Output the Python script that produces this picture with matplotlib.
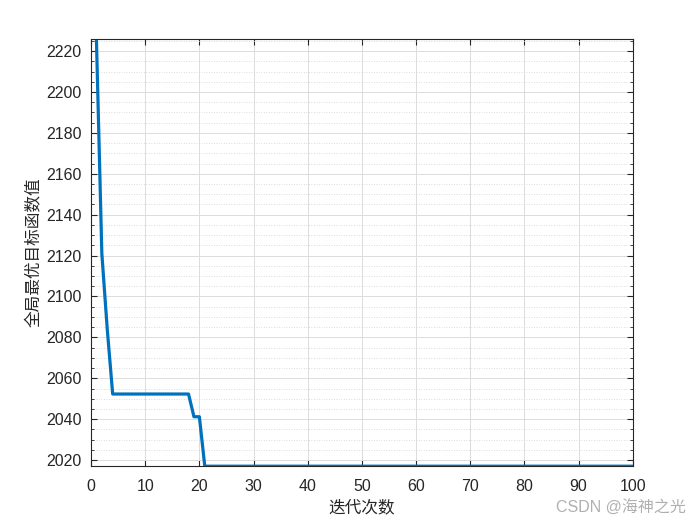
import matplotlib
matplotlib.use("Agg")
import matplotlib.pyplot as plt
from matplotlib.ticker import MultipleLocator
import numpy as np

plt.rcParams['font.family'] = ['Liberation Sans', 'Noto Sans CJK SC', 'DejaVu Sans']

iterations = list(range(1, 101))
head_values = [2226.0, 2121.0, 2084.0]
plateau1 = [2052.3] * 15          # iterations 4..18
plateau2 = [2041.2] * 2           # iterations 19..20
final_values = [2017.0] * 80      # iterations 21..100
best_values = head_values + plateau1 + plateau2 + final_values

xlabel_text = "迭代次数"
ylabel_text = "全局最优目标函数值"
watermark = "CSDN @海神之光"

fig = plt.figure(figsize=(7, 5.25), dpi=100)
ax = fig.add_axes([0.13, 0.112, 0.774, 0.814])

ax.plot(iterations, best_values, color='#0072BD', linewidth=2.3)

ax.set_xlim(0, 100)
ax.set_ylim(min(best_values), max(best_values))
ax.xaxis.set_major_locator(MultipleLocator(10))
ax.yaxis.set_major_locator(MultipleLocator(20))
ax.yaxis.set_minor_locator(MultipleLocator(5))

ax.grid(which='major', color='#dcdcdc', linewidth=0.7, linestyle='-')
ax.grid(which='minor', axis='y', color='#d0d0d0', linewidth=0.6, linestyle=(0, (1, 2)))
ax.set_axisbelow(True)

ax.tick_params(which='both', direction='in', top=True, right=True, labelsize=11.5, colors='#262626')
ax.tick_params(which='major', length=4)
ax.tick_params(which='minor', length=2)
ax.tick_params(axis='x', which='major', pad=9)
ax.tick_params(axis='y', which='major', pad=7)
ax.tick_params(axis='x', which='minor', top=False, bottom=False)
for s in ax.spines.values():
    s.set_color('#262626')
    s.set_linewidth(0.8)

ax.set_xlabel(xlabel_text, fontsize=12, family=['Noto Sans CJK SC'], color='#262626', labelpad=4)
ax.set_ylabel(ylabel_text, fontsize=12, family=['Noto Sans CJK SC'], color='#262626', labelpad=2)

fig.text(0.98, 0.034, watermark, ha='right', va='center', fontsize=11.5,
         color='#b0b0b0', family=['Liberation Sans', 'Noto Sans CJK SC'])

fig.savefig('out.png', dpi=100)
